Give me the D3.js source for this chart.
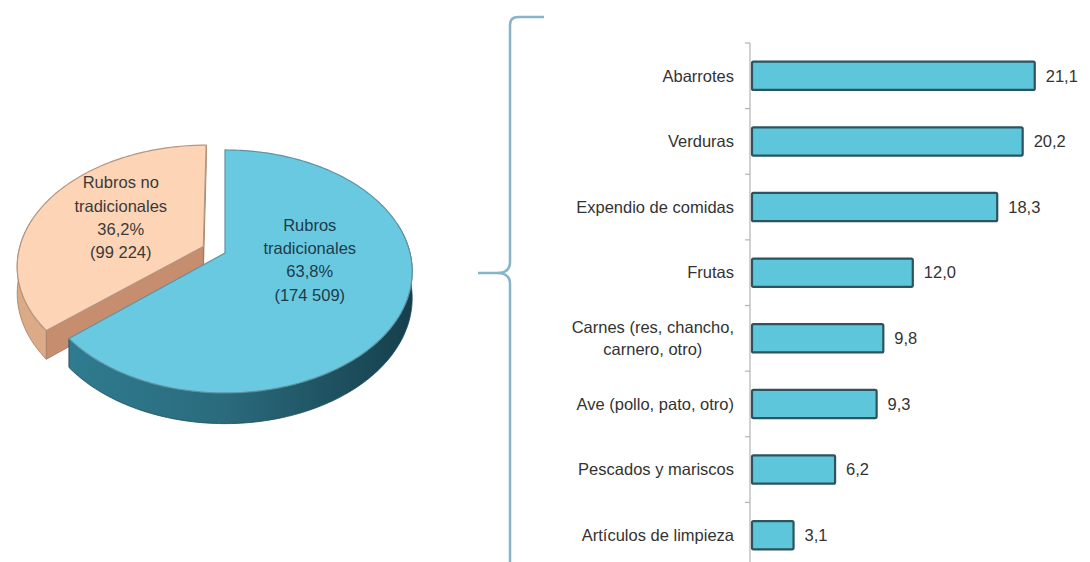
<!DOCTYPE html>
<html><head><meta charset="utf-8">
<script src="https://cdn.jsdelivr.net/npm/d3@7"></script>
<style>
body{margin:0;background:#fff}
svg{display:block}
text{font-family:"Liberation Sans",Arial,sans-serif}
</style></head><body>
<svg id="c" width="1090" height="562"></svg>
<script>
// ---------------- data ----------------
const pieNames = ["Rubros tradicionales", "Rubros no tradicionales"];
const pieNameLines = [["Rubros", "tradicionales"], ["Rubros no", "tradicionales"]];
const pieValues = [174509, 99224];
const piePercents = [63.8, 36.2];

const categories = ["Abarrotes", "Verduras", "Expendio de comidas", "Frutas",
  "Carnes (res, chancho, carnero, otro)", "Ave (pollo, pato, otro)",
  "Pescados y mariscos", "Artículos de limpieza"];
const values = [21.1, 20.2, 18.3, 12.0, 9.8, 9.3, 6.2, 3.1];

// ---------------- setup ----------------
const svg = d3.select("#c");
const loc = d3.formatLocale({decimal: ",", thousands: " ", grouping: [3], currency: ["", ""]});
const fmtInt = loc.format(",d");
const fmt1 = loc.format(".1f");
const FS = 16.5;

const defs = svg.append("defs");
const g1 = defs.append("linearGradient").attr("id", "blueSide").attr("x1", 0).attr("x2", 1).attr("y1", 0).attr("y2", 0);
g1.append("stop").attr("offset", "0%").attr("stop-color", "#2f7b8f");
g1.append("stop").attr("offset", "45%").attr("stop-color", "#2a6b7d");
g1.append("stop").attr("offset", "100%").attr("stop-color", "#163f4c");

// ---------------- 3D pie ----------------
const cx = 225, cy = 253, Rx = 185, A = 118.7, B = 0.152, Dz = 26;
const proj = (u, v, z) => { const s = 1 / (1 - B * v); return [cx + Rx * u * s, cy + (A * v + Dz * z) * s]; };
const rim = (a, ou, ov, z) => proj(ou + Math.sin(a), ov - Math.cos(a), z);
const samp = (a0, a1) => { const n = Math.max(2, Math.ceil(Math.abs(a1 - a0) / 0.02)); return d3.range(n + 1).map(i => a0 + (a1 - a0) * i / n); };
const line = d3.line().curve(d3.curveLinear);

const arcs = d3.pie().sort(null).value(d => d)(pieValues);
const explode = [0, 0.13];
const topFill = ["#69c9e0", "#fdd4b6"];
const topStroke = ["#5f93a3", "#b5957f"];
const sideFill = ["url(#blueSide)", "#dbaa86"];
const cutFill = ["#2a6b7d", "#c78d6f"];
const textFill = ["#1d3c4a", "#3a3a3a"];
const labelRU = [0.5, 0.52], labelRV = [0.14, 0.62];

const pieG = svg.append("g");
[1, 0].forEach(i => {
  const d = arcs[i];
  const am = (d.startAngle + d.endAngle) / 2;
  const ou = explode[i] * Math.sin(am), ov = -explode[i] * Math.cos(am);
  const g = pieG.append("g");
  if (i === 1) {
    [d.endAngle, d.startAngle].forEach(a => {
      const pts = [proj(ou, ov, 0), rim(a, ou, ov, 0), rim(a, ou, ov, 1), proj(ou, ov, 1)];
      g.append("path").attr("d", line(pts) + "Z").attr("fill", cutFill[i]).attr("stroke", "#9c7660").attr("stroke-width", 0.8);
    });
  }
  const s0 = Math.max(d.startAngle, Math.PI / 2 - 0.25), s1 = Math.min(d.endAngle, 3 * Math.PI / 2 + 0.25);
  if (s0 < s1) {
    const as = samp(s0, s1);
    const pts = as.map(a => rim(a, ou, ov, 0)).concat(as.slice().reverse().map(a => rim(a, ou, ov, 1)));
    g.append("path").attr("d", line(pts) + "Z").attr("fill", sideFill[i]).attr("stroke", i ? "#a67b62" : "#1e4a57").attr("stroke-width", 0.8);
  }
  const tp = [proj(ou, ov, 0)].concat(samp(d.startAngle, d.endAngle).map(a => rim(a, ou, ov, 0)));
  g.append("path").attr("d", line(tp) + "Z").attr("fill", topFill[i]).attr("stroke", topStroke[i]).attr("stroke-width", 1.2).attr("stroke-linejoin", "round");
  const lp = proj(ou + labelRU[i] * Math.sin(am), ov - labelRV[i] * Math.cos(am), 0);
  const lines = pieNameLines[i].concat([fmt1(piePercents[i]) + "%", "(" + fmtInt(pieValues[i]) + ")"]);
  const t = g.append("text").attr("x", lp[0]).attr("y", lp[1]).attr("text-anchor", "middle")
    .attr("font-size", FS).attr("fill", textFill[i]);
  lines.forEach((l, k) => t.append("tspan").attr("x", lp[0]).attr("y", lp[1] + (k - 1.5) * 23.3).attr("dy", "0.35em").text(l));
});

// ---------------- brace ----------------
const bp = d3.path();
bp.moveTo(544, 17); bp.lineTo(518, 17); bp.quadraticCurveTo(510, 17, 510, 25);
bp.lineTo(510, 262); bp.quadraticCurveTo(510, 273, 497, 273); bp.lineTo(478, 273);
bp.moveTo(497, 273); bp.quadraticCurveTo(510, 273, 510, 284); bp.lineTo(510, 570);
svg.append("path").attr("d", bp.toString()).attr("fill", "none").attr("stroke", "#88b3c8").attr("stroke-width", 2.5);

// ---------------- bar chart ----------------
const y = d3.scaleBand().domain(categories).range([43, 568]).paddingInner(0.57).paddingOuter(0.285);
const x = d3.scaleLinear().domain([0, 24]).range([752, 752 + 13.4 * 24]);
const step = y.step();

const axG = svg.append("g");
axG.append("line").attr("x1", 750).attr("x2", 750).attr("y1", y.range()[0]).attr("y2", y.range()[1]).attr("stroke", "#b3b3b3").attr("stroke-width", 1.2);
const bounds = d3.range(categories.length + 1).map(i => y.range()[0] + i * step);
axG.selectAll("line.tk").data(bounds).join("line").attr("class", "tk")
  .attr("x1", 745).attr("x2", 750).attr("y1", d => d).attr("y2", d => d).attr("stroke", "#b3b3b3").attr("stroke-width", 1.2);

svg.append("g").selectAll("rect").data(values).join("rect")
  .attr("x", x(0)).attr("y", (d, i) => y(categories[i]))
  .attr("width", d => x(d) - x(0)).attr("height", y.bandwidth())
  .attr("fill", "#5ec6da").attr("stroke", "#2c535e").attr("stroke-width", 2.2).attr("rx", 1.5);

svg.append("g").selectAll("text").data(values).join("text")
  .attr("x", d => x(d) + 11).attr("y", (d, i) => y(categories[i]) + y.bandwidth() / 2)
  .attr("dy", "0.35em").attr("font-size", FS).attr("fill", "#333").text(d => fmt1(d));

const labG = svg.append("g");
const labelRight = 734, maxW = 172;
categories.forEach(c => {
  const cyc = y(c) + y.bandwidth() / 2;
  const t = labG.append("text").attr("font-size", FS).attr("fill", "#333").attr("text-anchor", "middle");
  const words = c.split(" ");
  const lines = [];
  let cur = [];
  const probe = labG.append("text").attr("font-size", FS);
  words.forEach(w => {
    const test = cur.concat([w]).join(" ");
    probe.text(test);
    if (probe.node().getComputedTextLength() > maxW && cur.length) { lines.push(cur.join(" ")); cur = [w]; }
    else cur.push(w);
  });
  lines.push(cur.join(" "));
  let W = 0;
  lines.forEach(l => { probe.text(l); W = Math.max(W, probe.node().getComputedTextLength()); });
  probe.remove();
  const xc = labelRight - W / 2;
  lines.forEach((l, k) => t.append("tspan").attr("x", xc).attr("y", cyc + (k - (lines.length - 1) / 2) * 22).attr("dy", "0.35em").text(l));
});
</script>
</body></html>
